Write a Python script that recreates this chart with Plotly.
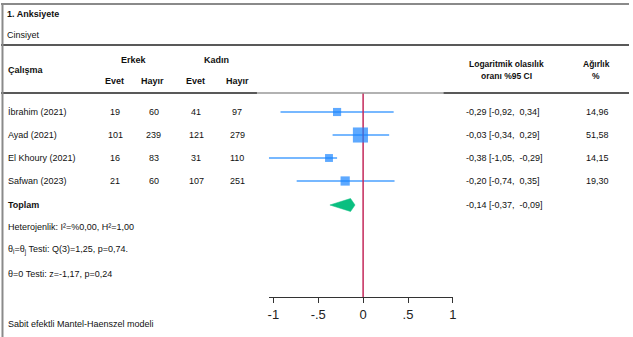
import plotly.graph_objects as go

W, H = 633, 337

# Study data
studies = ["İbrahim (2021)", "Ayad (2021)", "El Khoury (2021)", "Safwan (2023)"]
erkek_evet = [19, 101, 16, 21]
erkek_hayir = [60, 239, 83, 60]
kadin_evet = [41, 121, 31, 107]
kadin_hayir = [97, 279, 110, 251]
log_or = [-0.29, -0.03, -0.38, -0.20]
ci_low = [-0.92, -0.34, -1.05, -0.74]
ci_high = [0.34, 0.29, -0.29, 0.35]
weights = [14.96, 51.58, 14.15, 19.30]

# Pooled estimate
total_or = -0.14
total_low = -0.37
total_high = -0.09

tick_vals = [-1, -0.5, 0, 0.5, 1]
tick_text = ["-1", "-.5", "0", ".5", "1"]

# Row layout (pixel rows)
ROW0, ROW_STEP = 112, 23
row_y = [ROW0 + i * ROW_STEP for i in range(len(studies))]
total_y = ROW0 + len(studies) * ROW_STEP + 1
AXIS_Y = 297

FONT = "Liberation Sans, Arial, sans-serif"
BLUE = "#1a85ff"
BLUE_LINE = "#4aa0ff"
RED = "#c4285a"
GREEN = "#0abf80"


def fmt(v):
    return f"{v:.2f}".replace(".", ",")


fig = go.Figure()

# Confidence interval lines
for y, lo, hi in zip(row_y, ci_low, ci_high):
    fig.add_trace(go.Scatter(x=[lo, hi], y=[y, y], mode="lines",
                             line=dict(color=BLUE_LINE, width=1.5),
                             hoverinfo="skip", showlegend=False))

# Null line
fig.add_trace(go.Scatter(x=[0, 0], y=[93, AXIS_Y], mode="lines",
                         line=dict(color=RED, width=1.5),
                         hoverinfo="skip", showlegend=False))

# Study markers sized by weight
fig.add_trace(go.Scatter(
    x=log_or, y=row_y, mode="markers",
    marker=dict(symbol="square", color=BLUE,
                size=[2.1 * w ** 0.5 for w in weights], line=dict(width=0)),
    cliponaxis=False, showlegend=False))

# Pooled diamond
fig.add_trace(go.Scatter(
    x=[total_low, total_or, total_high, total_or, total_low],
    y=[total_y, total_y - 6.5, total_y, total_y + 6.5, total_y],
    mode="lines", fill="toself", fillcolor=GREEN,
    line=dict(color=GREEN, width=0.5), showlegend=False, hoverinfo="skip"))

# Forest x axis: 0 at x=365 px, 90.5 px per unit
x0_px, unit_px = 365.0, 90.5
rng = [-1.05, 1.0]
dom = [(x0_px + rng[0] * unit_px) / W, (x0_px + rng[1] * unit_px) / W]

fig.update_layout(
    width=W, height=H,
    margin=dict(l=0, r=0, t=0, b=0),
    paper_bgcolor="white", plot_bgcolor="rgba(0,0,0,0)",
    xaxis=dict(domain=dom, range=rng, anchor="free",
               position=1 - AXIS_Y / H,
               showline=True, linecolor="#333", linewidth=1,
               ticks="outside", ticklen=5, tickcolor="#333",
               tickvals=tick_vals, ticktext=tick_text,
               tickfont=dict(family=FONT, size=13, color="#222"),
               showgrid=False, zeroline=False, fixedrange=True),
    yaxis=dict(domain=[0, 1], range=[H, 0], visible=False,
               showgrid=False, zeroline=False, fixedrange=True),
)

annotations = []


def txt(x, y, s, size=9, bold=False, anchor="left"):
    annotations.append(dict(
        x=x / W, y=1 - y / H, xref="paper", yref="paper",
        text=f"<b>{s}</b>" if bold else s, showarrow=False,
        xanchor=anchor, yanchor="middle",
        font=dict(family=FONT, size=size, color="#111")))


# Header
txt(4, 14, "1. Anksiyete", bold=True)
txt(4, 35, "Cinsiyet")
txt(134, 60, "Erkek", bold=True, anchor="center")
txt(217, 60, "Kadın", bold=True, anchor="center")
txt(5, 70, "Çalışma", bold=True)
for cx, s in [(114, "Evet"), (153, "Hayır"), (196, "Evet"), (238, "Hayır")]:
    txt(cx, 81, s, bold=True, anchor="center")
txt(510, 64, "Logaritmik olasılık", bold=True, anchor="center", size=8.5)
txt(510, 76, "oranı %95 CI", bold=True, anchor="center", size=8.5)
txt(600, 64, "Ağırlık", bold=True, anchor="center", size=8.5)
txt(600, 76, "%", bold=True, anchor="center", size=8.5)

# Study rows
for i, y in enumerate(row_y):
    txt(5, y, studies[i])
    txt(115, y, str(erkek_evet[i]), anchor="center")
    txt(154, y, str(erkek_hayir[i]), anchor="center")
    txt(197, y, str(kadin_evet[i]), anchor="center")
    txt(238, y, str(kadin_hayir[i]), anchor="center")
    txt(467, y, f"{fmt(log_or[i])} [{fmt(ci_low[i])},  {fmt(ci_high[i])}]")
    txt(601, y, fmt(weights[i]), anchor="center")

txt(5, total_y, "Toplam", bold=True)
txt(467, total_y, f"{fmt(total_or)} [{fmt(total_low)},  {fmt(total_high)}]")

# Statistics
txt(5, 227, "Heterojenlik: I²=%0,00, H²=1,00")
txt(5, 250, "θ<sub>i</sub>=θ<sub>j</sub> Testi: Q(3)=1,25, p=0,74.")
txt(5, 274, "θ=0 Testi: z=-1,17, p=0,24")
txt(5, 324, "Sabit efektli Mantel-Haenszel modeli")

fig.update_layout(annotations=annotations)


def hline(y, x0, x1, color, width):
    fig.add_shape(type="line", xref="paper", yref="paper",
                  x0=x0 / W, x1=x1 / W, y0=1 - y / H, y1=1 - y / H,
                  line=dict(color=color, width=width))


# Frame and rules
hline(4, 0, W, "#8a8a8a", 2)
hline(45, 0, W, "#222", 1.5)
hline(93, 0, 258, "#222", 1.5)
hline(93, 258, 446, "#999", 1.5)
hline(93, 446, W, "#222", 1.5)
fig.add_shape(type="line", xref="paper", yref="paper",
              x0=1.5 / W, x1=1.5 / W, y0=0, y1=1 - 4 / H,
              line=dict(color="#8a8a8a", width=2))

fig.write_html("out.html")
